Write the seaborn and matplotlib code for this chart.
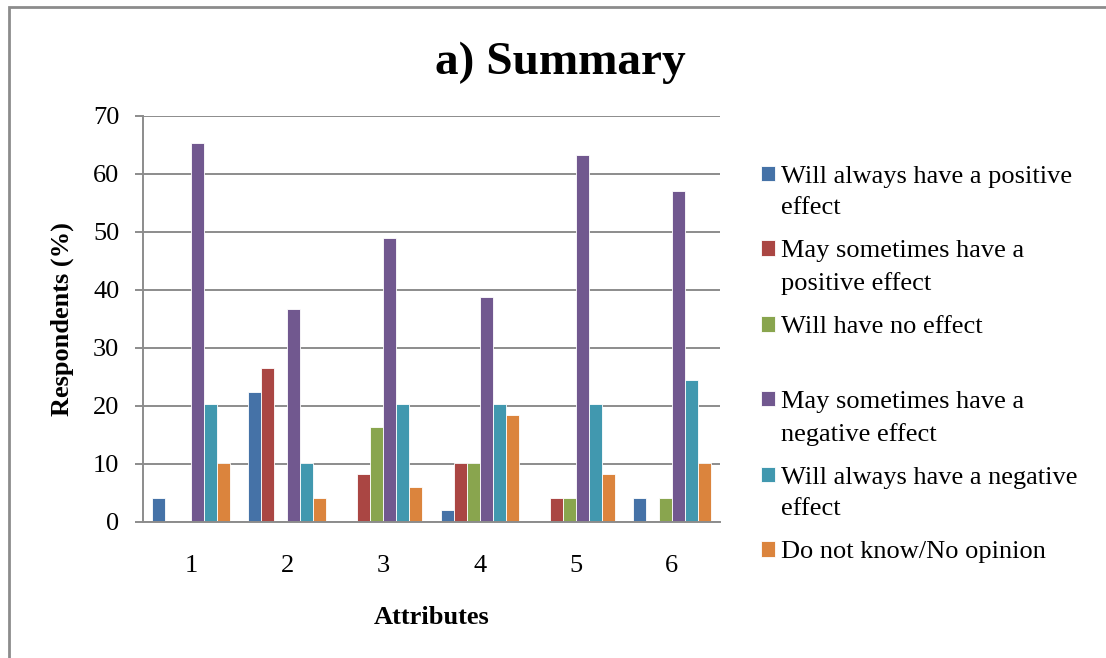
import matplotlib
matplotlib.use("Agg")
import matplotlib.pyplot as plt
from matplotlib.patches import Rectangle
import seaborn as sns
import pandas as pd

# Survey responses per attribute (% of respondents)
attributes = ["1", "2", "3", "4", "5", "6"]
responses = [
    "Will always have a positive effect",
    "May sometimes have a positive effect",
    "Will have no effect",
    "May sometimes have a negative effect",
    "Will always have a negative effect",
    "Do not know/No opinion",
]
always_positive = [4.1, 22.4, 0.0, 2.0, 0.0, 4.1]
sometimes_positive = [0.0, 26.5, 8.2, 10.2, 4.1, 0.0]
no_effect = [0.0, 0.0, 16.3, 10.2, 4.1, 4.1]
sometimes_negative = [65.3, 36.7, 49.0, 38.8, 63.3, 57.1]
always_negative = [20.4, 10.2, 20.4, 20.4, 20.4, 24.5]
no_opinion = [10.2, 4.1, 6.1, 18.4, 8.2, 10.2]
y_ticks = [0, 10, 20, 30, 40, 50, 60, 70]

# Legend text, wrapped as in the chart
legend_labels = [
    "Will always have a positive\neffect",
    "May sometimes have a\npositive effect",
    "Will have no effect\n",
    "May sometimes have a\nnegative effect",
    "Will always have a negative\neffect",
    "Do not know/No opinion",
]

colors = ["#4572A7", "#AA4643", "#89A54E", "#71588F", "#4198AF", "#DB843D"]

series = [always_positive, sometimes_positive, no_effect,
          sometimes_negative, always_negative, no_opinion]
rows = []
for name, vals in zip(responses, series):
    for a, v in zip(attributes, vals):
        rows.append({"Attribute": a, "Response": name, "Percent": v})
df = pd.DataFrame(rows)

sns.set_theme(style="white")
plt.rcParams["font.family"] = ["Liberation Serif", "DejaVu Serif"]
plt.rcParams["text.color"] = "black"
plt.rcParams["axes.labelcolor"] = "black"

FS = 19
fig = plt.figure(figsize=(11.06, 6.58), dpi=100)
ax = fig.add_axes([143 / 1106, 136 / 658, 577 / 1106, 406 / 658])

sns.barplot(data=df, x="Attribute", y="Percent", hue="Response",
            hue_order=responses, order=attributes, palette=colors,
            saturation=1, width=0.81, edgecolor="white", linewidth=0.6,
            ax=ax, legend=True)

ax.set_ylim(0, 70)
ax.set_yticks(y_ticks)
ax.set_xlim(-0.5, 5.5)
ax.yaxis.grid(True, color="#8c8c8c", linewidth=1.4)
ax.set_axisbelow(True)
for side in ["top", "right"]:
    ax.spines[side].set_visible(False)
for side in ["left", "bottom"]:
    ax.spines[side].set_color("#8c8c8c")
    ax.spines[side].set_linewidth(1.4)

ax.tick_params(axis="y", which="major", left=True, length=6, width=1.4,
               color="#8c8c8c", pad=11, labelsize=FS, labelcolor="black")
ax.tick_params(axis="x", which="major", bottom=False, length=0, pad=24,
               labelsize=FS, labelcolor="black")

ax.set_ylabel("Respondents (%)", fontsize=FS, fontweight="bold", va="center")
ax.yaxis.set_label_coords(-0.14, 0.5)
ax.set_xlabel("Attributes", fontsize=FS, fontweight="bold", va="center")
ax.xaxis.set_label_coords(0.5, -0.236)

fig.text(560 / 1106, 1 - 63 / 658, "a) Summary", fontsize=34,
         fontweight="bold", ha="center", va="center")

handles, _ = ax.get_legend_handles_labels()
leg = ax.legend(handles, legend_labels, loc="upper left",
                bbox_to_anchor=(761 / 1106, 1 - 166 / 658),
                bbox_transform=fig.transFigure, frameon=False,
                fontsize=FS, handlelength=0.52, handleheight=0.52,
                handletextpad=0.25, labelspacing=0.8, borderaxespad=0,
                borderpad=0)
for t in leg.get_texts():
    t.set_color("black")
    t.set_linespacing(1.55)
# keep each colour key level with the first line of its label
for column in leg._legend_handle_box.get_children():
    for item in column.get_children():
        item.align = "top"

# Chart outline
fig.patches.append(Rectangle((9 / 1106, -0.05), 1.2, 1 - 7 / 658 + 0.05,
                             transform=fig.transFigure, fill=False,
                             edgecolor="#8c8c8c", linewidth=2, zorder=0))

fig.savefig("out.png", dpi=100)
